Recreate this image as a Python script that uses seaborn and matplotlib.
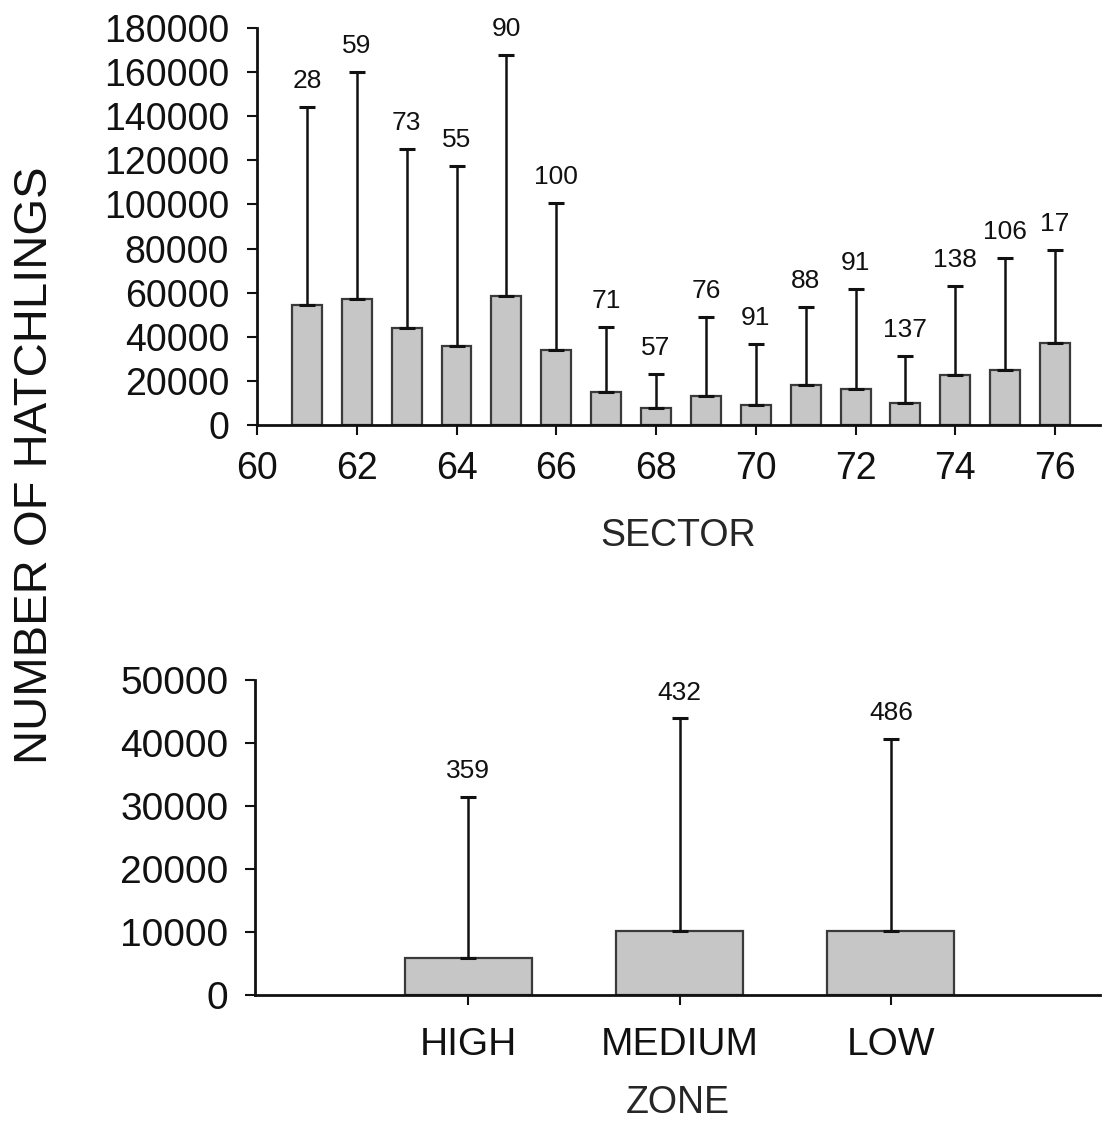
import numpy as np
import pandas as pd
import matplotlib
matplotlib.use("Agg")
import matplotlib.pyplot as plt
import seaborn as sns

# ---- data ----
sectors = [61, 62, 63, 64, 65, 66, 67, 68, 69, 70, 71, 72, 73, 74, 75, 76]
sector_mean = [54400, 57000, 44100, 35800, 58500, 33900, 15000, 7900,
               13100, 8900, 18000, 16200, 9800, 22800, 24900, 37300]
sector_upper = [144300, 160200, 125300, 117400, 167600, 100800, 44600, 23000,
                49000, 36600, 53500, 61800, 31400, 63200, 75600, 79500]
sector_n = [28, 59, 73, 55, 90, 100, 71, 57, 76, 91, 88, 91, 137, 138, 106, 17]

zones = ["HIGH", "MEDIUM", "LOW"]
zone_mean = [5900, 10100, 10200]
zone_upper = [31500, 43900, 40600]
zone_n = [359, 432, 486]

sector_ticks = [60, 62, 64, 66, 68, 70, 72, 74, 76]
top_yticks = [0, 20000, 40000, 60000, 80000, 100000, 120000, 140000, 160000, 180000]
bot_yticks = [0, 10000, 20000, 30000, 40000, 50000]

# ---- style ----
sns.set_style("ticks")
plt.rcParams['font.family'] = ['Liberation Sans', 'DejaVu Sans']

BAR_FILL = "#c6c6c6"
BAR_EDGE = "#3a3a3a"

fig = plt.figure(figsize=(11.06, 11.25), dpi=100)
ax1 = fig.add_axes([257/1106, 1 - 425/1125, 843/1106, 397/1125])
ax2 = fig.add_axes([255/1106, 1 - 995/1125, 845/1106, 315/1125])

# ---- top panel ----
df1 = pd.DataFrame({"sector": sectors, "mean": sector_mean})
sns.barplot(data=df1, x="sector", y="mean", native_scale=True, width=0.6,
            color=BAR_FILL, edgecolor=BAR_EDGE, linewidth=1.6,
            saturation=1, errorbar=None, ax=ax1)
err1 = np.array(sector_upper) - np.array(sector_mean)
ax1.errorbar(sectors, sector_mean, yerr=[np.zeros(len(sectors)), err1],
             fmt="none", ecolor="#111111", elinewidth=1.8, capsize=6,
             capthick=2.2, zorder=3)
for x, u, n in zip(sectors, sector_upper, sector_n):
    ax1.annotate(str(n), (x, u), xytext=(0, 10), textcoords="offset points",
                 ha="center", va="bottom", fontsize=19, color="#111111")

ax1.set_xlim(60, 76.9)
ax1.set_ylim(0, 180000)
ax1.set_xticks(sector_ticks)
ax1.set_xticklabels([str(t) for t in sector_ticks])
ax1.set_yticks(top_yticks)
ax1.set_yticklabels([str(t) for t in top_yticks])
ax1.tick_params(axis="both", labelsize=27, length=7, width=1.5, colors="#111111")
ax1.tick_params(axis="x", pad=12)
ax1.tick_params(axis="y", pad=13)
ax1.set_xlabel("SECTOR", fontsize=27, labelpad=22)
ax1.set_ylabel("")
sns.despine(ax=ax1)
for s in ["left", "bottom"]:
    ax1.spines[s].set_linewidth(2)
    ax1.spines[s].set_color("#111111")

# ---- bottom panel ----
df2 = pd.DataFrame({"zone": zones, "mean": zone_mean})
sns.barplot(data=df2, x="zone", y="mean", order=zones, width=0.6,
            color=BAR_FILL, edgecolor=BAR_EDGE, linewidth=1.6,
            saturation=1, errorbar=None, ax=ax2)
err2 = np.array(zone_upper) - np.array(zone_mean)
xpos = np.arange(len(zones))
ax2.errorbar(xpos, zone_mean, yerr=[np.zeros(len(zones)), err2],
             fmt="none", ecolor="#111111", elinewidth=1.8, capsize=6,
             capthick=2.2, zorder=3)
for x, u, n in zip(xpos, zone_upper, zone_n):
    ax2.annotate(str(n), (x, u), xytext=(0, 10), textcoords="offset points",
                 ha="center", va="bottom", fontsize=19, color="#111111")

ax2.set_xlim(-1.01, 2.99)
ax2.set_ylim(0, 50000)
ax2.set_yticks(bot_yticks)
ax2.set_yticklabels([str(t) for t in bot_yticks])
ax2.tick_params(axis="both", labelsize=28, length=7, width=1.5, colors="#111111")
ax2.tick_params(axis="x", pad=16)
ax2.tick_params(axis="y", pad=12)
ax2.set_xlabel("ZONE", fontsize=27, labelpad=16)
ax2.set_ylabel("")
sns.despine(ax=ax2)
for s in ["left", "bottom"]:
    ax2.spines[s].set_linewidth(2)
    ax2.spines[s].set_color("#111111")

fig.text(35/1106, 1 - 465/1125, "NUMBER OF HATCHLINGS", rotation=90,
         ha="center", va="center", fontsize=34, color="#111111")

fig.savefig("out.png", dpi=100, facecolor="white")
